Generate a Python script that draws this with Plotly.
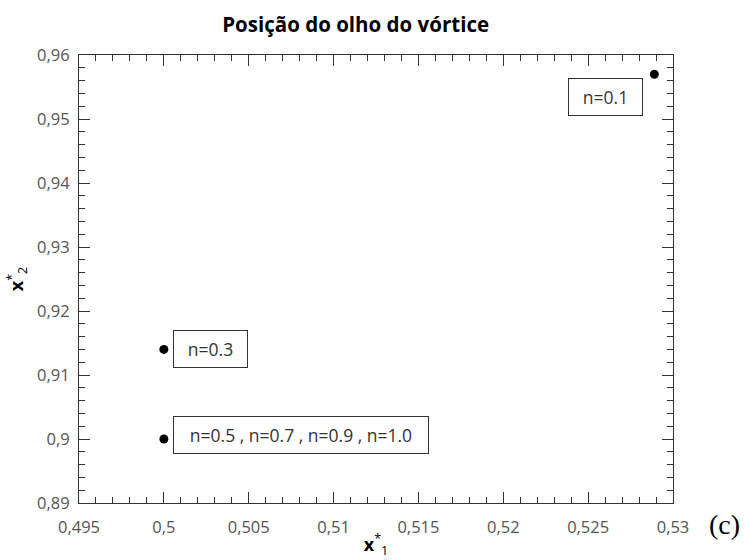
import plotly.graph_objects as go

# Data
x_vals = [0.5289, 0.5, 0.5]
y_vals = [0.957, 0.914, 0.9]
labels = ["n=0.1", "n=0.3", "n=0.5 , n=0.7 , n=0.9 , n=1.0"]

x_tickvals = [0.495, 0.5, 0.505, 0.51, 0.515, 0.52, 0.525, 0.53]
x_ticktext = ["0,495", "0,5", "0,505", "0,51", "0,515", "0,52", "0,525", "0,53"]
y_tickvals = [0.89, 0.9, 0.91, 0.92, 0.93, 0.94, 0.95, 0.96]
y_ticktext = ["0,89", "0,9", "0,91", "0,92", "0,93", "0,94", "0,95", "0,96"]

FONT = "Open Sans"
AXC = "#333333"

fig = go.Figure()
fig.add_trace(go.Scatter(
    x=x_vals, y=y_vals, mode="markers",
    marker=dict(color="black", size=9),
    showlegend=False, hoverinfo="skip",
))

# label boxes
box_specs = [
    dict(xanchor="right", yanchor="top", xshift=-11, yshift=-4, width=71),
    dict(xanchor="left", yanchor="middle", xshift=9, yshift=0, width=71),
    dict(xanchor="left", yanchor="middle", xshift=9, yshift=4, width=252),
]
for xv, yv, lab, sp in zip(x_vals, y_vals, labels, box_specs):
    fig.add_annotation(
        x=xv, y=yv, xref="x", yref="y", text=lab, showarrow=False,
        xanchor=sp["xanchor"], yanchor=sp["yanchor"],
        xshift=sp["xshift"], yshift=sp["yshift"],
        width=sp["width"], height=34, align="center", valign="middle",
        bordercolor=AXC, borderwidth=1, borderpad=1, bgcolor="white",
        font=dict(family=FONT, size=17.5, color="#333333"),
    )

fig.add_annotation(
    x=1.0875, y=-0.049, xref="paper", yref="paper", text="(c)",
    showarrow=False, xanchor="center", yanchor="middle",
    font=dict(family="Liberation Serif", size=28, color="black"),
)

axis_common = dict(
    showgrid=False, zeroline=False, showline=True, linecolor=AXC, linewidth=1,
    mirror="ticks", ticks="inside", tickcolor=AXC, tickwidth=1, ticklen=11,
    tickfont=dict(family=FONT, size=16.5, color="#555555"), automargin=False,
)

fig.update_xaxes(
    range=[0.495, 0.53], tickvals=x_tickvals, ticktext=x_ticktext,
    minor=dict(dtick=0.001, tick0=0.495, ticks="inside", ticklen=6, tickcolor=AXC, showgrid=False),
    ticklabelstandoff=9,
    title=dict(text="<b>x</b><sup>*</sup><sub>1</sub>", font=dict(family=FONT, size=18, color="black"), standoff=1),
    **axis_common,
)
fig.update_yaxes(
    range=[0.89, 0.96], tickvals=y_tickvals, ticktext=y_ticktext,
    minor=dict(dtick=0.002, tick0=0.89, ticks="inside", ticklen=6, tickcolor=AXC, showgrid=False),
    ticklabelstandoff=5,
    title=dict(text="<b>x</b><sup>*</sup><sub>2</sub>", font=dict(family=FONT, size=18, color="black"), standoff=8),
    **axis_common,
)

fig.update_layout(
    width=744, height=560,
    margin=dict(l=79, r=71, t=55, b=57),
    paper_bgcolor="white", plot_bgcolor="white",
    title=dict(text="<b>Posição do olho do vórtice</b>", x=0.478, xanchor="center",
               y=0.955, yanchor="middle",
               font=dict(family=FONT, size=20.5, color="black")),
)

fig.write_html("out.html")
